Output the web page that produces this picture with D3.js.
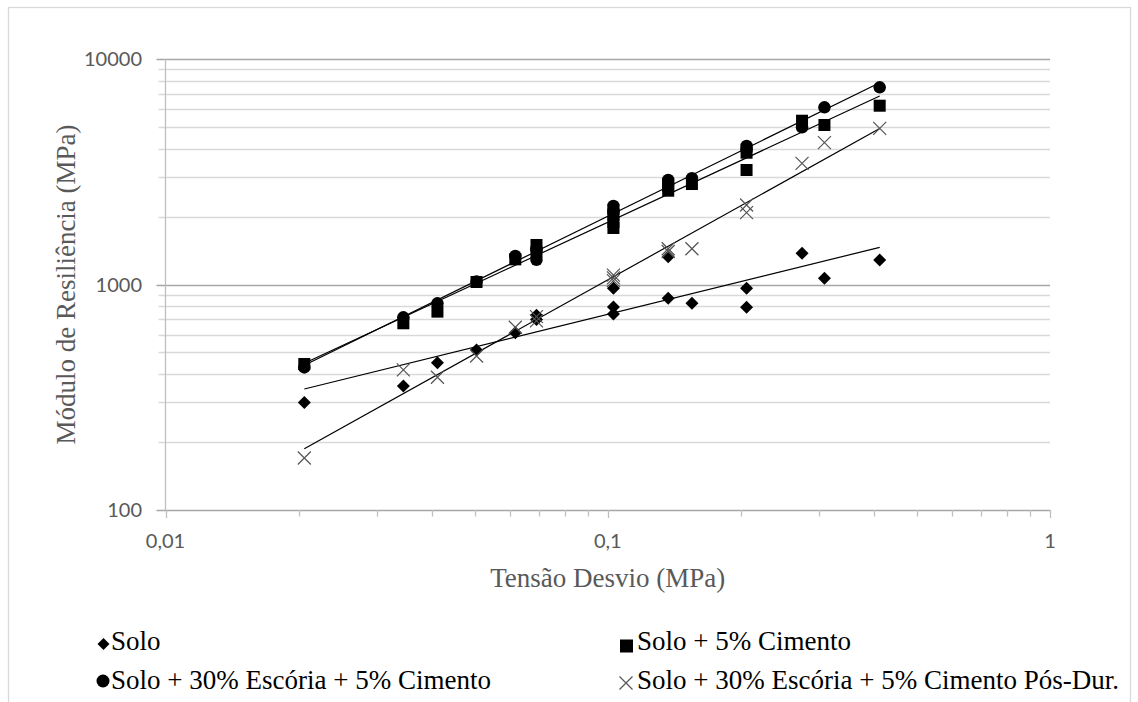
<!DOCTYPE html>
<html>
<head>
<meta charset="utf-8">
<script src="https://cdn.jsdelivr.net/npm/d3@7"></script>
<style>
body { margin: 0; background: #fff; }
.serif { font-family: "Liberation Serif", "Times New Roman", Times, "DejaVu Serif", serif; }
.sans { font-family: Lato, "Liberation Sans", sans-serif; }
</style>
</head>
<body>
<div id="vizDiv"></div>
<script>
var width = 1138
var height = 702

// tensão desvio (MPa), same sequence for every series
var tensao = [0.0206, 0.0412, 0.0618, 0.0345, 0.069, 0.103, 0.0505, 0.103, 0.155, 0.069, 0.137, 0.206, 0.103, 0.206, 0.309, 0.137, 0.275, 0.412]

// módulo de resiliência (MPa)
var solo = [300, 450, 611, 355, 700, 740, 512, 795, 825, 730, 869, 792, 962, 962, 1066, 1328, 1375, 1284]
var soloCimento = [444, 758, 1293, 673, 1497, 2033, 1026, 1893, 2790, 1393, 2734, 3841, 1781, 3219, 5097, 2606, 5325, 6207]
var soloEscoria = [429, 825, 1338, 715, 1422, 2229, 1030, 2140, 2958, 1288, 2907, 4114, 2075, 3950, 6106, 2790, 4978, 7489]
var soloPosDur = [170, 388, 646, 418, 690, 1040, 482, 1070, 1440, 720, 1400, 2252, 1100, 2082, 4255, 1440, 3446, 4928]

var seriesNames = ["Solo", "Solo + 5% Cimento", "Solo + 30% Escória + 5% Cimento", "Solo + 30% Escória + 5% Cimento Pós-Dur."]
var seriesShapes = ["diamond", "square", "circle", "cross"]

var xMajor = [0.01, 0.1, 1]
var xTickLabels = ["0,01", "0,1", "1"]
var yMajor = [100, 1000, 10000]
var yTickLabels = ["100", "1000", "10000"]

var xTitle = "Tensão Desvio (MPa)"
var yTitle = "Módulo de Resiliência (MPa)"

var plotLeft = 165.5, plotRight = 1050, plotTop = 59, plotBottom = 510

var svg = d3.select("#vizDiv")
    .append("svg")
    .attr("width", width)
    .attr("height", height)

// chart border
svg.append("rect")
    .attr("x", 8.5).attr("y", 7.5)
    .attr("width", 1122).attr("height", 710)
    .attr("fill", "#fff")
    .attr("stroke", "#d9d9d9")
    .attr("stroke-width", 1.3)

var x = d3.scaleLog().domain([0.01, 1]).range([plotLeft, plotRight])
var y = d3.scaleLog().domain([100, 10000]).range([plotBottom, plotTop])

function isMajor(v) {
    var l = Math.log10(v)
    return Math.abs(l - Math.round(l)) < 1e-6
}

// horizontal gridlines + left ticks
var yGrid = y.ticks()
svg.selectAll(".hgrid").data(yGrid).enter().append("line")
    .attr("class", "hgrid")
    .attr("x1", function(d) { return plotLeft - (isMajor(d) ? 9 : 7) })
    .attr("x2", plotRight)
    .attr("y1", function(d) { return Math.round(y(d)) + 0.5 })
    .attr("y2", function(d) { return Math.round(y(d)) + 0.5 })
    .attr("stroke", function(d) { return isMajor(d) ? "#a6a6a6" : "#d9d9d9" })
    .attr("stroke-width", 1.3)

// left axis line
svg.append("line")
    .attr("x1", plotLeft).attr("x2", plotLeft)
    .attr("y1", plotTop).attr("y2", plotBottom)
    .attr("stroke", "#bfbfbf").attr("stroke-width", 1.3)

// bottom ticks
var xGrid = x.ticks()
svg.selectAll(".xtick").data(xGrid).enter().append("line")
    .attr("class", "xtick")
    .attr("x1", function(d) { return Math.round(x(d)) + 0.5 })
    .attr("x2", function(d) { return Math.round(x(d)) + 0.5 })
    .attr("y1", plotBottom)
    .attr("y2", function(d) { return plotBottom + (isMajor(d) ? 8 : 6.5) })
    .attr("stroke", "#bfbfbf").attr("stroke-width", 1.3)

// tick labels
svg.selectAll(".xlab").data(xMajor).enter().append("text")
    .attr("class", "xlab sans")
    .attr("x", function(d) { return x(d) })
    .attr("y", 548)
    .attr("text-anchor", "middle")
    .style("font-size", "20px")
    .attr("fill", "#595959")
    .text(function(d, i) { return xTickLabels[i] })

svg.selectAll(".ylab").data(yMajor).enter().append("text")
    .attr("class", "ylab sans")
    .attr("x", 142)
    .attr("y", function(d) { return y(d) + 7 })
    .attr("text-anchor", "end")
    .style("font-size", "20px")
    .attr("fill", "#595959")
    .text(function(d, i) { return yTickLabels[i] })

// axis titles
svg.append("text")
    .attr("class", "serif")
    .attr("x", (plotLeft + plotRight) / 2)
    .attr("y", 587)
    .attr("text-anchor", "middle")
    .style("font-size", "27px")
    .attr("fill", "#595959")
    .text(xTitle)

svg.append("text")
    .attr("class", "serif")
    .attr("transform", "translate(75," + ((plotTop + plotBottom) / 2) + ") rotate(-90)")
    .attr("text-anchor", "middle")
    .style("font-size", "27px")
    .attr("fill", "#595959")
    .text(yTitle)

// power trendline, least squares in log-log space
function powerFit(xs, ys) {
    var lx = xs.map(Math.log), ly = ys.map(Math.log)
    var mx = d3.mean(lx), my = d3.mean(ly)
    var sxy = d3.sum(lx, function(v, i) { return (v - mx) * (ly[i] - my) })
    var sxx = d3.sum(lx, function(v) { return (v - mx) * (v - mx) })
    var b = sxy / sxx
    var a = my - b * mx
    return function(v) { return Math.exp(a) * Math.pow(v, b) }
}

var allSeries = [solo, soloCimento, soloEscoria, soloPosDur]
var line = d3.line().x(function(d) { return x(d[0]) }).y(function(d) { return y(d[1]) })

allSeries.forEach(function(vals) {
    var f = powerFit(tensao, vals)
    var ext = d3.extent(tensao)
    svg.append("path")
        .attr("d", line([[ext[0], f(ext[0])], [ext[1], f(ext[1])]]))
        .attr("stroke", "#000")
        .attr("stroke-width", 1.2)
        .attr("fill", "none")
})

// markers
function drawMarker(g, shape, cx, cy, s) {
    if (shape == "diamond") {
        var h = s / 2
        g.append("path")
            .attr("d", "M" + cx + "," + (cy - h) + "L" + (cx + h) + "," + cy + "L" + cx + "," + (cy + h) + "L" + (cx - h) + "," + cy + "Z")
            .attr("fill", "#000")
    } else if (shape == "square") {
        g.append("rect")
            .attr("x", cx - s / 2).attr("y", cy - s / 2)
            .attr("width", s).attr("height", s)
            .attr("fill", "#000")
    } else if (shape == "circle") {
        g.append("circle")
            .attr("cx", cx).attr("cy", cy).attr("r", s / 2)
            .attr("fill", "#000")
    } else {
        var h = s / 2
        g.append("path")
            .attr("d", "M" + (cx - h) + "," + (cy - h) + "L" + (cx + h) + "," + (cy + h) + "M" + (cx - h) + "," + (cy + h) + "L" + (cx + h) + "," + (cy - h))
            .attr("stroke", "#555")
            .attr("stroke-width", 1.2)
            .attr("fill", "none")
    }
}

var markerSize = { diamond: 13, square: 12, circle: 12.5, cross: 13 }

allSeries.forEach(function(vals, si) {
    var g = svg.append("g")
    vals.forEach(function(v, i) {
        drawMarker(g, seriesShapes[si], x(tensao[i]), y(v), markerSize[seriesShapes[si]])
    })
})

// legend
var legendPos = [[103.5, 644, 111, 650], [626.5, 646, 637, 650], [103, 681, 111, 689], [626, 683, 637, 689]]
var legendSize = { diamond: 12, square: 13, circle: 13, cross: 13 }
seriesNames.forEach(function(name, i) {
    var p = legendPos[i]
    var g = svg.append("g")
    drawMarker(g, seriesShapes[i], p[0], p[1], legendSize[seriesShapes[i]])
    g.append("text")
        .attr("class", "serif")
        .attr("x", p[2]).attr("y", p[3])
        .style("font-size", "27px")
        .attr("fill", "#000")
        .text(name)
})
</script>
</body>
</html>
